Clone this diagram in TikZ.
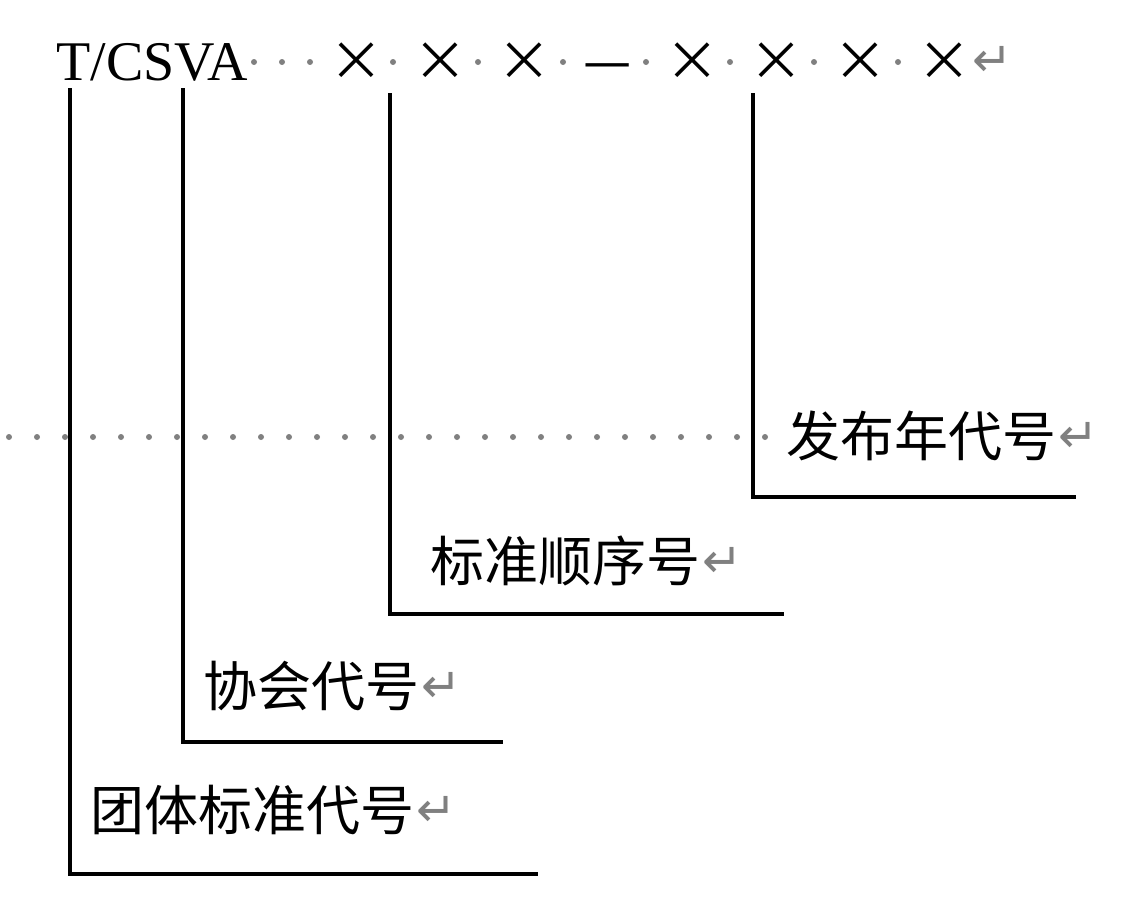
\documentclass[tikz,border=0pt]{standalone}
\usepackage{fontspec}
\usepackage{xcolor}
\usepackage{tikz}
\setmainfont{Liberation Serif}
\newfontfamily\cjk{Noto Sans CJK SC}
\newfontfamily\markfont{DejaVu Sans}
\newcommand{\parmark}{\kern2pt\raisebox{2.5pt}{\textcolor{gray}{\markfont\fontsize{36}{36}\selectfont ↵}}}
\tikzset{
codetext/.style = {inner sep=0pt, anchor=base west, font=\fontsize{42}{48}\selectfont},
sign/.style  = {inner sep=0pt, anchor=base, font=\cjk\fontsize{40.5}{48}\selectfont},
labeltext/.style = {inner sep=0pt, anchor=base west, font=\cjk\fontsize{40.5}{48}\selectfont},
spacedot/.style = {fill=gray},
leader/.style = {line width=2.6pt}
}
\begin{document}
\begin{tikzpicture}[x=0.75pt, y=-0.75pt]
    \useasboundingbox (0,0) rectangle (1139,903);
    % the code line
    \node [codetext] (code) at (56,80) {T/CSVA};
    \node [sign] (x1) at (356,80) {×};
    \node [sign] (x2) at (440,80) {×};
    \node [sign] (x3) at (524,80) {×};
    \node [sign] (dash) at (608,80) {—};
    \node [sign] (x4) at (692,80) {×};
    \node [sign] (x5) at (776,80) {×};
    \node [sign] (x6) at (860,80) {×};
    \node [sign] (x7) at (944,80) {×};
    \node [inner sep=0pt, anchor=base west] (ret) at (970,80) {\parmark};
    \foreach \px in {254,282,310,393,478,563,646,730,814,898}
        \fill [spacedot] (\px,62) circle (3);

    % dotted row of the year label
    \foreach \k in {0,...,27}
        \fill [spacedot] (9+28*\k,437) circle (3);

    % the labels
    \node [labeltext] (pubyear) at (786,456) {发布年代号\parmark};
    \node [labeltext] (seqno) at (430,581) {标准顺序号\parmark};
    \node [labeltext] (assoc) at (203,706) {协会代号\parmark};
    \node [labeltext] (groupstd) at (90,830) {团体标准代号\parmark};

    % leaders from the code to the labels
    \coordinate (t1) at (70,88);
    \coordinate (t2) at (183,88);
    \coordinate (t3) at (390,93);
    \coordinate (t4) at (753,93);
    \coordinate (e1) at (538,874);
    \coordinate (e2) at (503,742);
    \coordinate (e3) at (784,614);
    \coordinate (e4) at (1076,497);
    \draw [leader] (t1) |- (e1);
    \draw [leader] (t2) |- (e2);
    \draw [leader] (t3) |- (e3);
    \draw [leader] (t4) |- (e4);
\end{tikzpicture}
\end{document}
